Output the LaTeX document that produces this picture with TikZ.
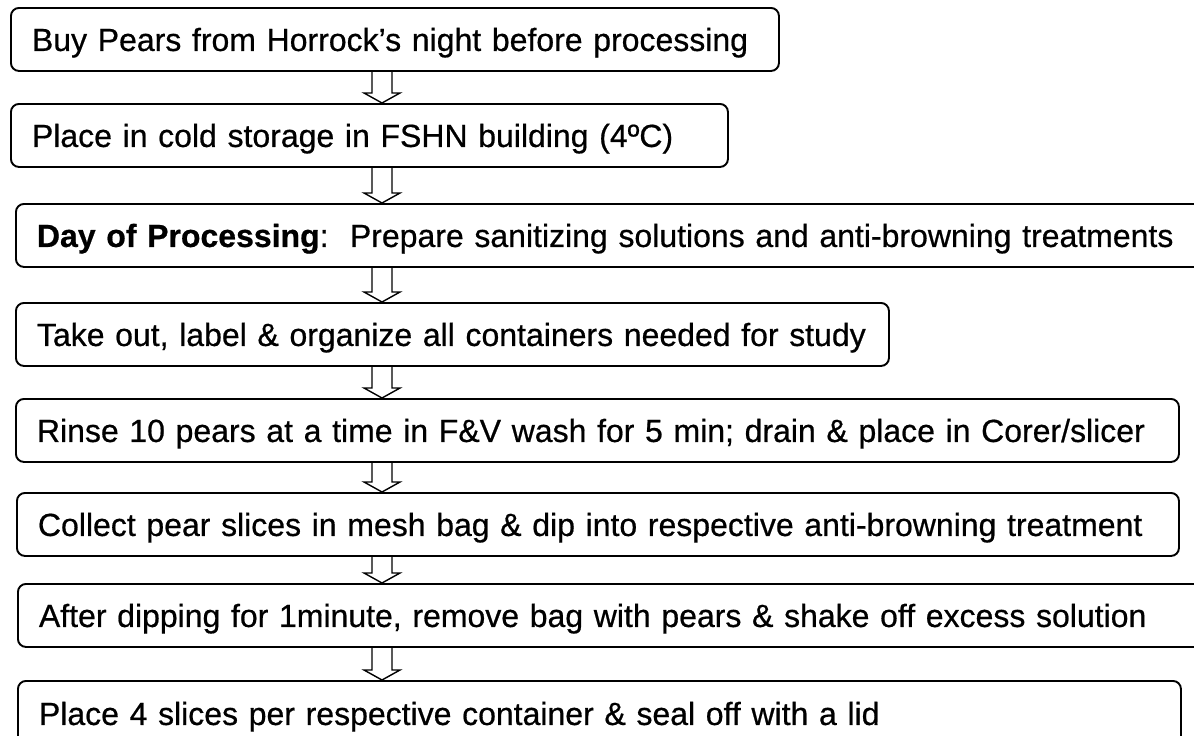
\documentclass[tikz,border=0pt]{standalone}
\usepackage{fontspec}
\setmainfont{Liberation Sans}[FakeBold=0.6]
\usetikzlibrary{calc}
\begin{document}
\begin{tikzpicture}[x=1pt,y=-1pt,
  stepbox/.style={draw, line width=1.9pt, rounded corners=8pt, anchor=north west,
    inner xsep=21pt, inner ysep=0pt, align=left,
    font=\fontsize{32}{38}\selectfont, text height=23pt, text depth=0pt},
  boxsize/.style 2 args={minimum width=#1pt, text width=#1pt-42pt, minimum height=#2pt},
  flowarrow/.style={line width=1.4pt, line join=miter,
    to path={let \p1=(\tikztostart), \p2=(\tikztotarget) in
      (\x1-10pt,\y1) -- (\x1-10pt,\y2+10pt) -- (\x1-18pt,\y2+10pt) -- (\x1,\y2)
      -- (\x1+18pt,\y2+10pt) -- (\x1+10pt,\y2+10pt) -- (\x1+10pt,\y1)}}
]
\clip (0,0) rectangle (1194,736);
\fill[white] (0,0) rectangle (1194,736);

% process steps
\node[stepbox, boxsize={768}{63}] (b1) at (10,7)
  {\mbox{Buy Pears from Horrock’s night before processing}};
\node[stepbox, boxsize={717}{63}] (b2) at (10,103)
  {\mbox{Place in cold storage in FSHN building (4ºC)}};
\node[stepbox, boxsize={1215}{63}] (b3) at (15,203)
  {\mbox{\textbf{Day of Processing}:\ \ Prepare sanitizing solutions and anti-browning treatments}};
\node[stepbox, boxsize={873}{63}] (b4) at (15,302)
  {\mbox{Take out, label \& organize all containers needed for study}};
\node[stepbox, boxsize={1163}{63}] (b5) at (15,398)
  {\mbox{Rinse 10 pears at a time in F\&V wash for 5 min; drain \& place in Corer/slicer}};
\node[stepbox, boxsize={1162}{63}] (b6) at (16,492)
  {\mbox{Collect pear slices in mesh bag \& dip into respective anti-browning treatment}};
\node[stepbox, boxsize={1213}{63}] (b7) at (17,583)
  {\mbox{After dipping for 1minute, remove bag with pears \& shake off excess solution}};
\node[stepbox, boxsize={1163}{65}] (b8) at (17,680)
  {\mbox{Place 4 slices per respective container \& seal off with a lid}};

% hollow arrows between consecutive steps
\coordinate (ax) at (382,0);
\foreach \a/\b in {b1/b2,b2/b3,b3/b4,b4/b5,b5/b6,b6/b7,b7/b8}
  \draw[flowarrow] (\a.south -| ax) to (\b.north -| ax);
\end{tikzpicture}
\end{document}
